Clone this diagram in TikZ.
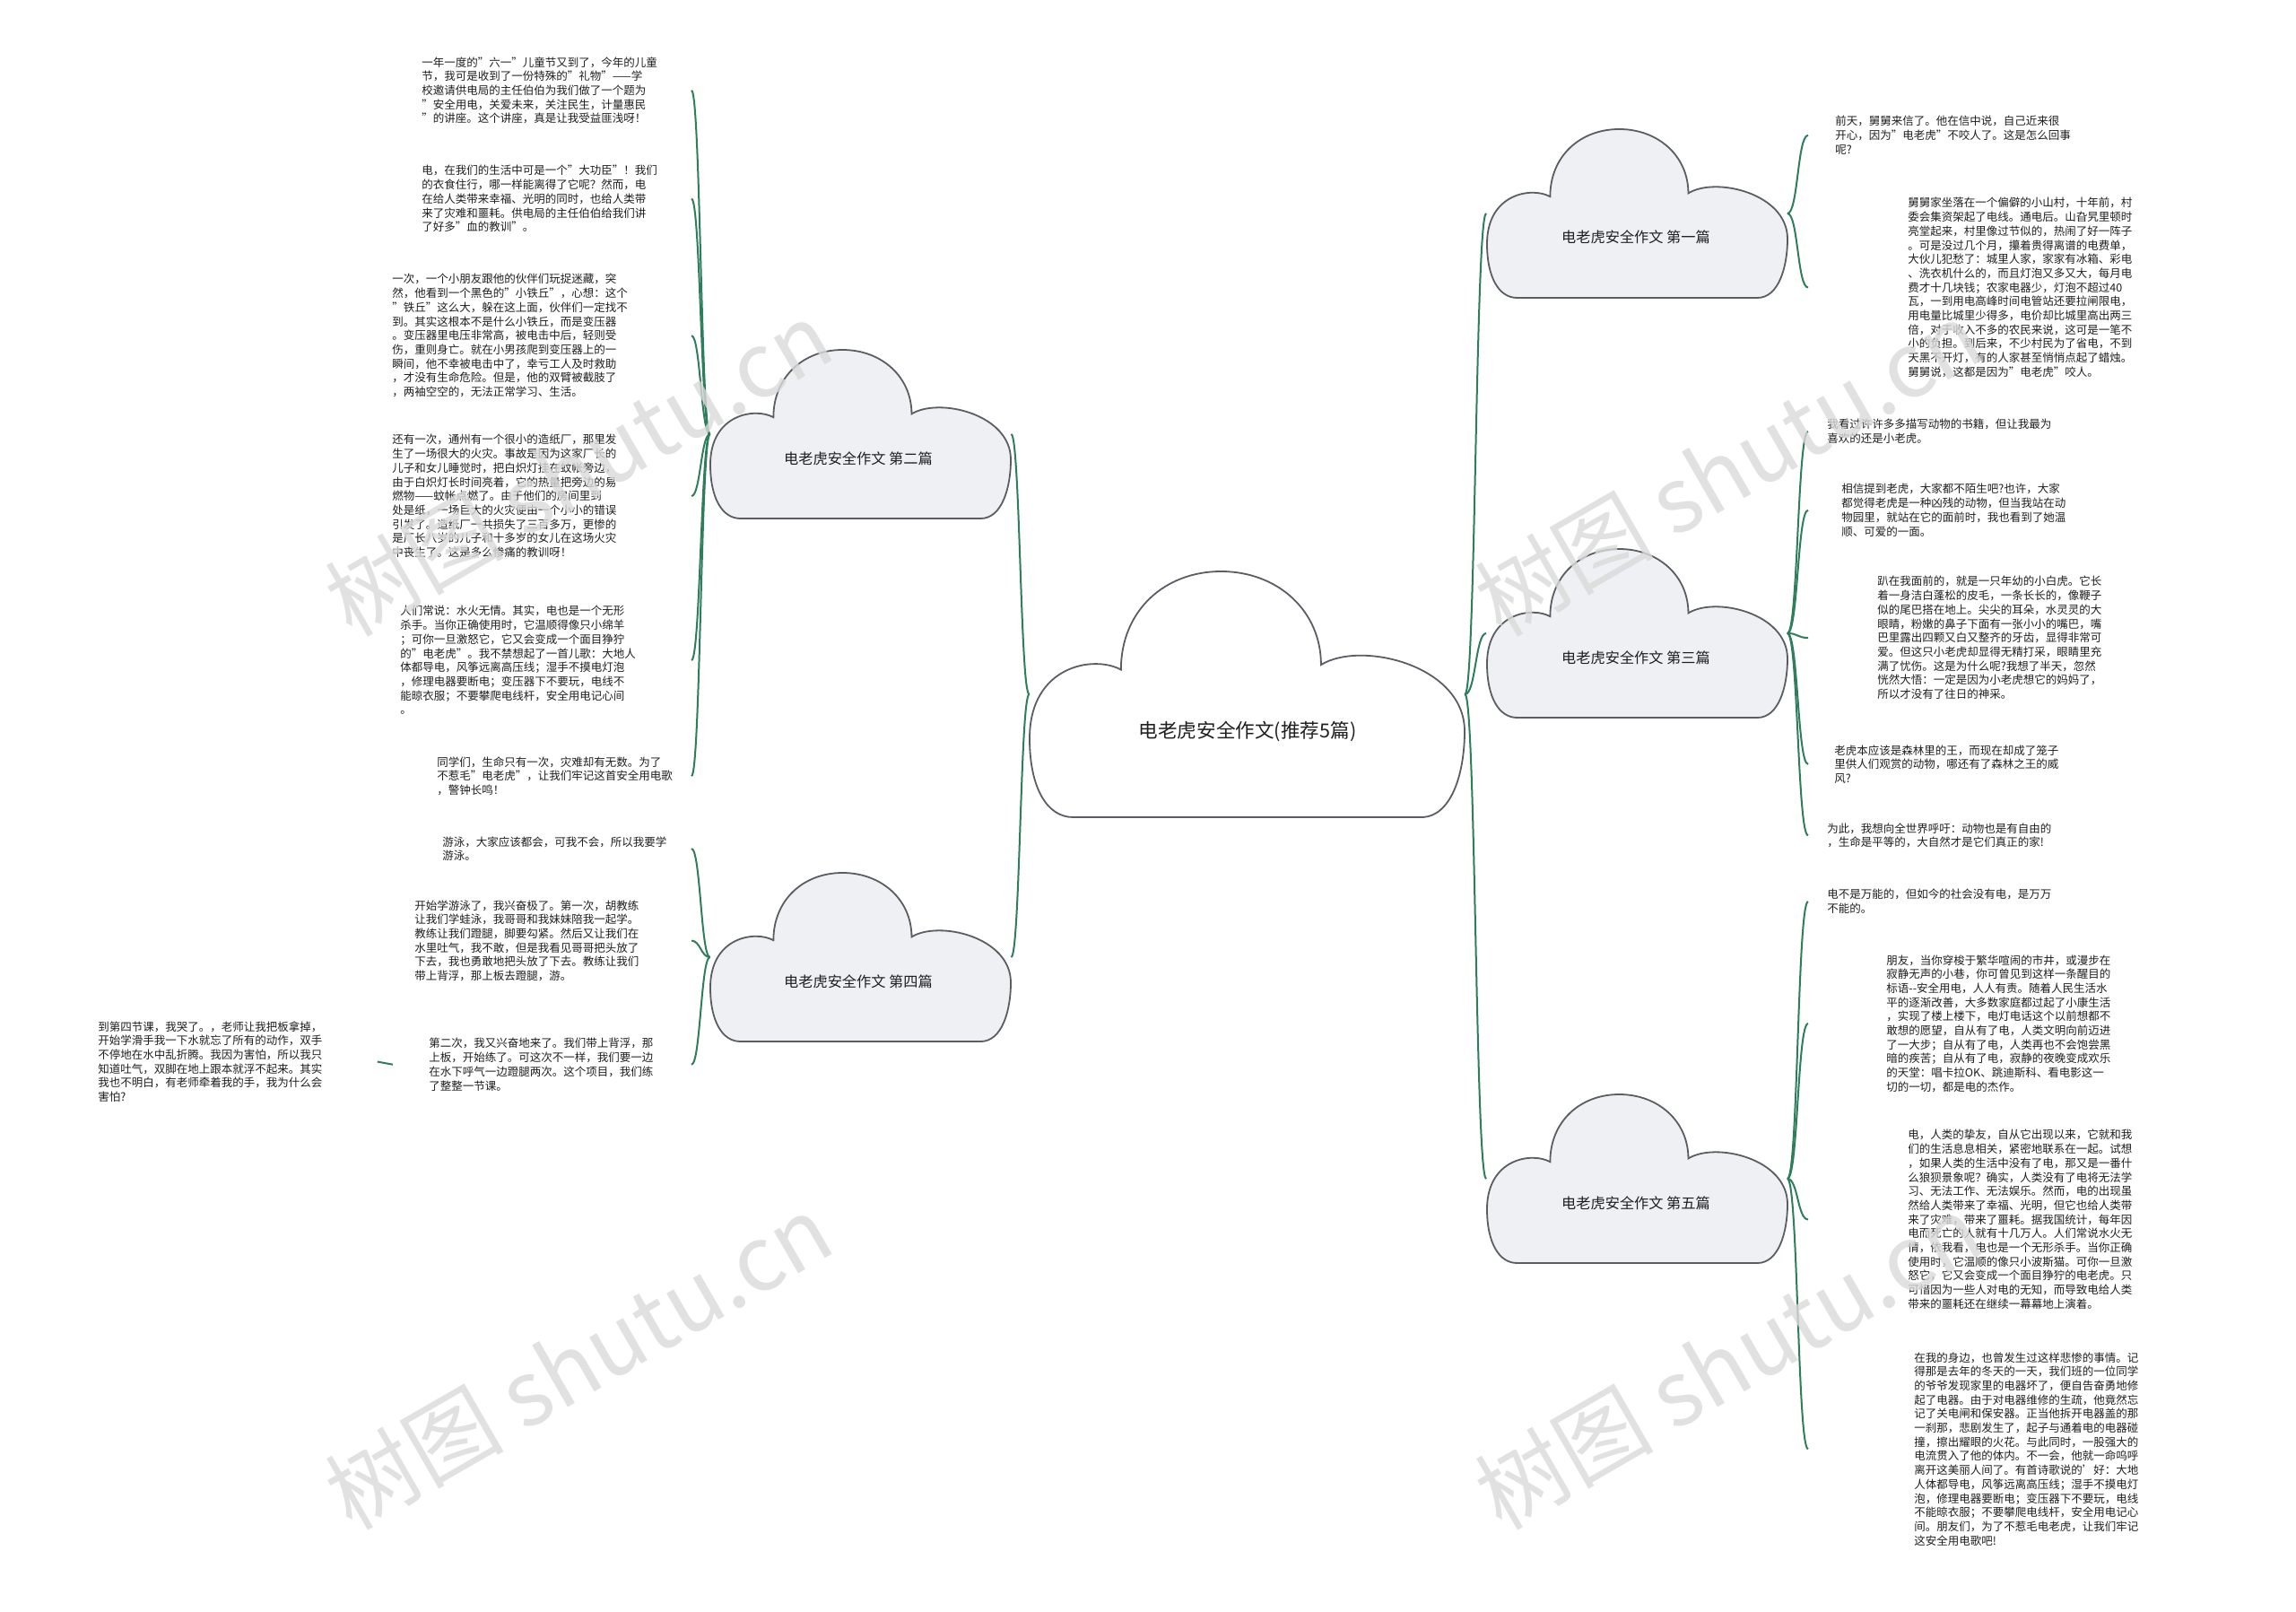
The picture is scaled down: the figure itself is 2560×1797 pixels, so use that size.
\documentclass[tikz,border=0pt]{standalone}
\usepackage{fontspec}
\setmainfont{Noto Sans CJK SC}
\definecolor{lk}{HTML}{2E7D5B}
\definecolor{cfill}{HTML}{EEF0F3}
\definecolor{cline}{HTML}{5A5E63}
\definecolor{wmgray}{HTML}{DADADA}
\newcommand{\cloudat}[5]{%
  \begin{scope}[shift={(#1,#2)}, xscale=#3, yscale=-#4]
    \filldraw[draw=cline, line width=0.9pt, fill=#5]
      (0.1,0) -- (0.9,0) .. controls (0.97,0) and (1.0,0.18) .. (1.0,0.35)
      .. controls (1.0,0.62) and (0.76,0.72) .. (0.67,0.62)
      .. controls (0.67,0.84) and (0.57,1.0) .. (0.44,1.0)
      .. controls (0.31,1.0) and (0.21,0.84) .. (0.21,0.6)
      .. controls (0.15,0.66) and (0.0,0.62) .. (0.0,0.32)
      .. controls (0.0,0.12) and (0.04,0) .. (0.1,0) -- cycle;
  \end{scope}}
\begin{document}
\begin{tikzpicture}[x=0.5pt,y=-0.5pt,
  leaf/.style={anchor=north west, inner sep=0pt, align=left, text=black!88,
    font=\fontsize{6.25pt}{7.85pt}\selectfont},
  conn/.style={draw=lk, line width=1pt},
  cloudbox/.style={inner sep=0pt, draw=none},
  clabel/.style={inner sep=0pt, text=black!88, font=\fontsize{8.1pt}{9pt}\selectfont},
  mlabel/.style={inner sep=0pt, text=black!88, font=\fontsize{10.8pt}{12pt}\selectfont},
  wm/.style={rotate=30, inner sep=0pt, text=wmgray, opacity=0.8, font=\fontsize{50pt}{50pt}\selectfont}]
\fill[white] (0,0) rectangle (2560,1797);
\useasboundingbox (0,0) rectangle (2560,1797);

% anchor nodes for clouds
\node[cloudbox, minimum width=242.5pt, minimum height=137pt] (c0) at (1390.5,774) {};
\node[cloudbox, minimum width=167.5pt, minimum height=94pt] (c1) at (1825,238) {};
\node[cloudbox, minimum width=167.5pt, minimum height=94pt] (c2) at (959.5,484) {};
\node[cloudbox, minimum width=167.5pt, minimum height=94pt] (c3) at (1825,706) {};
\node[cloudbox, minimum width=167.5pt, minimum height=94pt] (c4) at (959.5,1067) {};
\node[cloudbox, minimum width=167.5pt, minimum height=94pt] (c5) at (1825,1314) {};

\coordinate (LX) at (771,0);
\coordinate (RX) at (2016,0);

% leaves, left
\node[leaf] (b1) at (470,63) {一年一度的"六一"儿童节又到了，今年的儿童\\节，我可是收到了一份特殊的"礼物"——学\\校邀请供电局的主任伯伯为我们做了一个题为\\"安全用电，关爱未来，关注民生，计量惠民\\"的讲座。这个讲座，真是让我受益匪浅呀！};
\node[leaf] (b2) at (470,184) {电，在我们的生活中可是一个"大功臣"！我们\\的衣食住行，哪一样能离得了它呢？然而，电\\在给人类带来幸福、光明的同时，也给人类带\\来了灾难和噩耗。供电局的主任伯伯给我们讲\\了好多"血的教训"。};
\node[leaf] (b3) at (437,305) {一次，一个小朋友跟他的伙伴们玩捉迷藏，突\\然，他看到一个黑色的"小铁丘"，心想：这个\\"铁丘"这么大，躲在这上面，伙伴们一定找不\\到。其实这根本不是什么小铁丘，而是变压器\\。变压器里电压非常高，被电击中后，轻则受\\伤，重则身亡。就在小男孩爬到变压器上的一\\瞬间，他不幸被电击中了，幸亏工人及时救助\\，才没有生命危险。但是，他的双臂被截肢了\\，两袖空空的，无法正常学习、生活。};
\node[leaf] (b4) at (437,484) {还有一次，通州有一个很小的造纸厂，那里发\\生了一场很大的火灾。事故是因为这家厂长的\\儿子和女儿睡觉时，把白炽灯挂在蚊帐旁边，\\由于白炽灯长时间亮着，它的热量把旁边的易\\燃物——蚊帐点燃了。由于他们的房间里到\\处是纸，一场巨大的火灾便由一个小小的错误\\引发了。造纸厂一共损失了三百多万，更惨的\\是厂长八岁的儿子和十多岁的女儿在这场火灾\\中丧生了。这是多么惨痛的教训呀！};
\node[leaf] (b5) at (446,675) {人们常说：水火无情。其实，电也是一个无形\\杀手。当你正确使用时，它温顺得像只小绵羊\\；可你一旦激怒它，它又会变成一个面目狰狞\\的"电老虎"。我不禁想起了一首儿歌：大地人\\体都导电，风筝远离高压线；湿手不摸电灯泡\\，修理电器要断电；变压器下不要玩，电线不\\能晾衣服；不要攀爬电线杆，安全用电记心间\\。};
\node[leaf] (b6) at (487,843) {同学们，生命只有一次，灾难却有无数。为了\\不惹毛"电老虎"，让我们牢记这首安全用电歌\\，警钟长鸣！};
\node[leaf] (b7) at (493,932) {游泳，大家应该都会，可我不会，所以我要学\\游泳。};
\node[leaf] (b8) at (462,1003) {开始学游泳了，我兴奋极了。第一次，胡教练\\让我们学蛙泳，我哥哥和我妹妹陪我一起学。\\教练让我们蹬腿，脚要勾紧。然后又让我们在\\水里吐气，我不敢，但是我看见哥哥把头放了\\下去，我也勇敢地把头放了下去。教练让我们\\带上背浮，那上板去蹬腿，游。};
\node[leaf] (b9) at (478,1157) {第二次，我又兴奋地来了。我们带上背浮，那\\上板，开始练了。可这次不一样，我们要一边\\在水下呼气一边蹬腿两次。这个项目，我们练\\了整整一节课。};
\node[leaf] (b10) at (109,1138) {到第四节课，我哭了。，老师让我把板拿掉，\\开始学滑手我一下水就忘了所有的动作，双手\\不停地在水中乱折腾。我因为害怕，所以我只\\知道吐气，双脚在地上跟本就浮不起来。其实\\我也不明白，有老师牵着我的手，我为什么会\\害怕?};

% leaves, right
\node[leaf] (r1) at (2046,129) {前天，舅舅来信了。他在信中说，自己近来很\\开心，因为"电老虎"不咬人了。这是怎么回事\\呢?};
\node[leaf] (r2) at (2127,220) {舅舅家坐落在一个偏僻的小山村，十年前，村\\委会集资架起了电线。通电后。山旮旯里顿时\\亮堂起来，村里像过节似的，热闹了好一阵子\\。可是没过几个月，攥着贵得离谱的电费单，\\大伙儿犯愁了：城里人家，家家有冰箱、彩电\\、洗衣机什么的，而且灯泡又多又大，每月电\\费才十几块钱；农家电器少，灯泡不超过40\\瓦，一到用电高峰时间电管站还要拉闸限电，\\用电量比城里少得多，电价却比城里高出两三\\倍，对于收入不多的农民来说，这可是一笔不\\小的负担。到后来，不少村民为了省电，不到\\天黑不开灯，有的人家甚至悄悄点起了蜡烛。\\舅舅说，这都是因为"电老虎"咬人。};
\node[leaf] (r3) at (2037,467) {我看过许许多多描写动物的书籍，但让我最为\\喜欢的还是小老虎。};
\node[leaf] (r4) at (2053,539) {相信提到老虎，大家都不陌生吧?也许，大家\\都觉得老虎是一种凶残的动物，但当我站在动\\物园里，就站在它的面前时，我也看到了她温\\顺、可爱的一面。};
\node[leaf] (r5) at (2093,642) {趴在我面前的，就是一只年幼的小白虎。它长\\着一身洁白蓬松的皮毛，一条长长的，像鞭子\\似的尾巴搭在地上。尖尖的耳朵，水灵灵的大\\眼睛，粉嫩的鼻子下面有一张小小的嘴巴，嘴\\巴里露出四颗又白又整齐的牙齿，显得非常可\\爱。但这只小老虎却显得无精打采，眼睛里充\\满了忧伤。这是为什么呢?我想了半天，忽然\\恍然大悟：一定是因为小老虎想它的妈妈了，\\所以才没有了往日的神采。};
\node[leaf] (r6) at (2045,830) {老虎本应该是森林里的王，而现在却成了笼子\\里供人们观赏的动物，哪还有了森林之王的威\\风?};
\node[leaf] (r7) at (2037,917) {为此，我想向全世界呼吁：动物也是有自由的\\，生命是平等的，大自然才是它们真正的家!};
\node[leaf] (r8) at (2037,991) {电不是万能的，但如今的社会没有电，是万万\\不能的。};
\node[leaf] (r9) at (2103,1064) {朋友，当你穿梭于繁华喧闹的市井，或漫步在\\寂静无声的小巷，你可曾见到这样一条醒目的\\标语-{}-安全用电，人人有责。随着人民生活水\\平的逐渐改善，大多数家庭都过起了小康生活\\，实现了楼上楼下，电灯电话这个以前想都不\\敢想的愿望，自从有了电，人类文明向前迈进\\了一大步；自从有了电，人类再也不会饱尝黑\\暗的疾苦；自从有了电，寂静的夜晚变成欢乐\\的天堂：唱卡拉OK、跳迪斯科、看电影这一\\切的一切，都是电的杰作。};
\node[leaf] (r10) at (2127,1259) {电，人类的挚友，自从它出现以来，它就和我\\们的生活息息相关，紧密地联系在一起。试想\\，如果人类的生活中没有了电，那又是一番什\\么狼狈景象呢？确实，人类没有了电将无法学\\习、无法工作、无法娱乐。然而，电的出现虽\\然给人类带来了幸福、光明，但它也给人类带\\来了灾难，带来了噩耗。据我国统计，每年因\\电而死亡的人就有十几万人。人们常说水火无\\情，依我看，电也是一个无形杀手。当你正确\\使用时，它温顺的像只小波斯猫。可你一旦激\\怒它，它又会变成一个面目狰狞的电老虎。只\\可惜因为一些人对电的无知，而导致电给人类\\带来的噩耗还在继续一幕幕地上演着。};
\node[leaf] (r11) at (2134,1507) {在我的身边，也曾发生过这样悲惨的事情。记\\得那是去年的冬天的一天，我们班的一位同学\\的爷爷发现家里的电器坏了，便自告奋勇地修\\起了电器。由于对电器维修的生疏，他竟然忘\\记了关电闸和保安器。正当他拆开电器盖的那\\一刹那，悲剧发生了，起子与通着电的电器碰\\撞，擦出耀眼的火花。与此同时，一股强大的\\电流贯入了他的体内。不一会，他就一命呜呼\\离开这美丽人间了。有首诗歌说的{\char"27}好：大地\\人体都导电，风筝远离高压线；湿手不摸电灯\\泡，修理电器要断电；变压器下不要玩，电线\\不能晾衣服；不要攀爬电线杆，安全用电记心\\间。朋友们，为了不惹毛电老虎，让我们牢记\\这安全用电歌吧!};

% connectors: center to branches
\draw[conn] (c0.west) .. controls +(-10,0) and +(10,0) .. (c2.east);
\draw[conn] (c0.west) .. controls +(-10,0) and +(10,0) .. (c4.east);
\draw[conn] (c0.east) .. controls +(12,0) and +(-12,0) .. (c1.west);
\draw[conn] (c0.east) .. controls +(12,0) and +(-12,0) .. (c3.west);
\draw[conn] (c0.east) .. controls +(12,0) and +(-12,0) .. (c5.west);

% branches to leaves
\foreach \b in {b1,b2,b3,b4,b5,b6}
  \draw[conn] (c2.west) .. controls +(-10,0) and +(10,0) .. (\b.east -| LX);
\foreach \b in {b7,b8,b9}
  \draw[conn] (c4.west) .. controls +(-10,0) and +(10,0) .. (\b.east -| LX);
\draw[conn] ([xshift=30.5pt]b10.east) -- ([xshift=-20pt]b9.west);
\foreach \r in {r1,r2}
  \draw[conn] (c1.east) .. controls +(12,0) and +(-12,0) .. (\r.west -| RX);
\foreach \r in {r3,r4,r5,r6,r7}
  \draw[conn] (c3.east) .. controls +(12,0) and +(-12,0) .. (\r.west -| RX);
\foreach \r in {r8,r9,r10,r11}
  \draw[conn] (c5.east) .. controls +(12,0) and +(-12,0) .. (\r.west -| RX);

% clouds
\cloudat{1148}{911}{485}{274}{white}
\cloudat{1658}{332}{335}{188}{cfill}
\cloudat{792}{578}{335}{188}{cfill}
\cloudat{1658}{800}{335}{188}{cfill}
\cloudat{792}{1161}{335}{188}{cfill}
\cloudat{1658}{1408}{335}{188}{cfill}

\node[mlabel] (c0t) at (1391,815) {电老虎安全作文(推荐5篇)};
\node[clabel] (c1t) at (1824,264) {电老虎安全作文 第一篇};
\node[clabel] (c2t) at (957,511) {电老虎安全作文 第二篇};
\node[clabel] (c3t) at (1824,733) {电老虎安全作文 第三篇};
\node[clabel] (c4t) at (957,1094) {电老虎安全作文 第四篇};
\node[clabel] (c5t) at (1824,1341) {电老虎安全作文 第五篇};

% watermarks
\node[wm] (w1) at (645,522) {树图 shutu.cn};
\node[wm] (w2) at (645,1518) {树图 shutu.cn};
\node[wm] (w3) at (1927,522) {树图 shutu.cn};
\node[wm] (w4) at (1927,1518) {树图 shutu.cn};
\end{tikzpicture}
\end{document}
